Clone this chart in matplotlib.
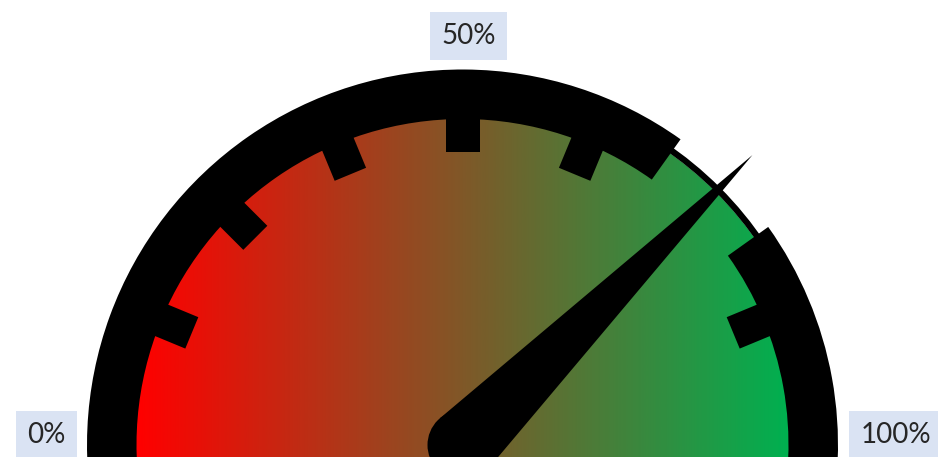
import numpy as np
import matplotlib
matplotlib.use("Agg")
import matplotlib.pyplot as plt
from matplotlib.patches import Wedge, Circle, Polygon
from matplotlib.colors import LinearSegmentedColormap

# gauge data
needle_value = 75            # percent
tick_values = [12.5, 25, 37.5, 50, 62.5, 75, 87.5]
label_values = [0, 50, 100]
label_texts = ['0%', '50%', '100%']
color_low = '#FF0000'
color_high = '#00B050'

# geometry (pixels, gauge centre at 0,0)
r_out = 375.5
r_in = 326
r_fill = 358
r_tick = 293
tick_w = 34
needle_len = 410
hub_r = 35
gap_half = 9.5


def val2ang(v):
    return 180.0 - 1.8 * v


def radial(ang, r):
    a = np.radians(ang)
    return np.array([r * np.cos(a), r * np.sin(a)])


plt.rcParams['font.family'] = ['Lato', 'DejaVu Sans']

fig = plt.figure(figsize=(9.38, 4.57), dpi=100)
ax = fig.add_axes([0, 0, 1, 1])
ax.set_xlim(-462.5, 475.5)
ax.set_ylim(-12, 445)
ax.set_aspect('equal')
ax.axis('off')

# horizontal red -> green gradient, clipped to the dial
cmap = LinearSegmentedColormap.from_list('gauge', [color_low, color_high])
xs = np.linspace(-r_fill, r_fill, 720)
grad = np.clip((xs + r_in) / (2 * r_in), 0, 1)[None, :]
im = ax.imshow(grad, cmap=cmap, extent=(-r_fill, r_fill, -r_fill, r_fill),
               aspect='auto', zorder=1, interpolation='bilinear')
clip = Circle((0, 0), r_fill, transform=ax.transData)
im.set_clip_path(clip)

# thin rim line (visible only in the gap)
ax.add_patch(Circle((0, 0), r_fill + 3, fill=False, ec='black', lw=4.5, zorder=2))

# thick ring with a gap where the needle points
na = val2ang(needle_value)
ax.add_patch(Wedge((0, 0), r_out, -15, na - gap_half, width=r_out - r_in,
                   fc='black', ec='none', zorder=3))
ax.add_patch(Wedge((0, 0), r_out, na + gap_half, 195, width=r_out - r_in,
                   fc='black', ec='none', zorder=3))

# tick marks
for tv in tick_values:
    ta = val2ang(tv)
    if abs(ta - na) < gap_half:
        continue
    u = radial(ta, 1)
    v = np.array([-u[1], u[0]]) * tick_w / 2
    p1 = u * r_tick
    p2 = u * (r_in + 3)
    ax.add_patch(Polygon([p1 - v, p2 - v, p2 + v, p1 + v], closed=True,
                         fc='black', ec='none', zorder=3))

# needle
tip = radial(na, needle_len)
t = np.degrees(np.arccos(hub_r / needle_len))
ax.add_patch(Polygon([radial(na + t, hub_r), tip, radial(na - t, hub_r)],
                     closed=True, fc='black', ec='none', zorder=4))
ax.add_patch(Circle((0, 0), hub_r, fc='black', ec='none', zorder=4))

# labels
box = dict(boxstyle='square,pad=0.4', fc='#DAE3F3', ec='none')
for lv, lt in zip(label_values, label_texts):
    la = val2ang(lv)
    c = np.cos(np.radians(la))
    if c < -0.5:
        ax.text(-397, 10, lt, ha='right', va='center', fontsize=20,
                color='#262626', bbox=box, zorder=5)
    elif c > 0.5:
        ax.text(398, 10, lt, ha='left', va='center', fontsize=20,
                color='#262626', bbox=box, zorder=5)
    else:
        ax.text(6, 396, lt, ha='center', va='bottom', fontsize=20,
                color='#262626', bbox=box, zorder=5)

fig.savefig('out.png', dpi=100)
